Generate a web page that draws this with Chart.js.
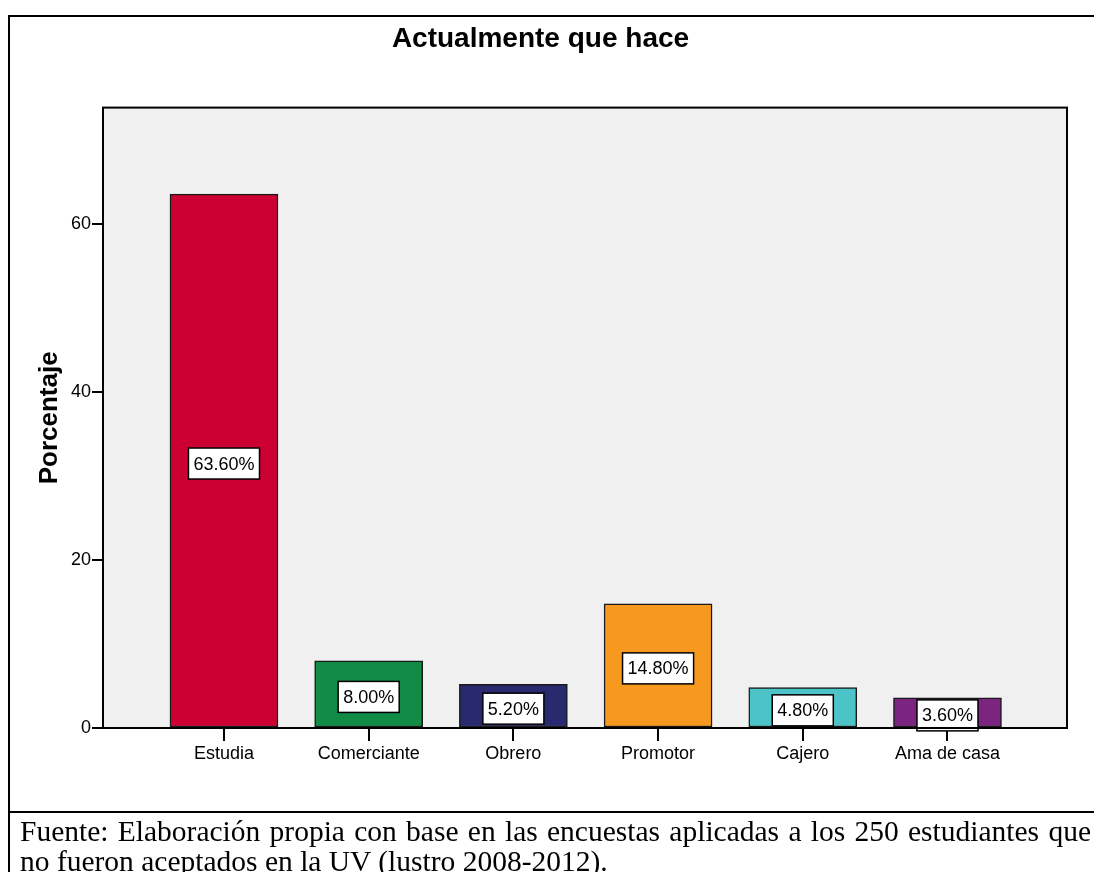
<!DOCTYPE html>
<html lang="es">
<head>
<meta charset="UTF-8">
<title>Actualmente que hace</title>
<script src="https://cdn.jsdelivr.net/npm/chart.js"></script>
<style>
    body { margin: 0; background: #fff; }
    #wrap { position: relative; width: 1094px; height: 872px; overflow: hidden; }
    #chart { position: absolute; left: 0; top: 0; }
    .rule { position: absolute; background: #000; }
    #fuente {
        position: absolute; left: 20px; top: 816px; width: 1071px;
        font-family: 'Liberation Serif', 'Times New Roman', serif;
        font-size: 29.5px; line-height: 30px; color: #000;
    }
    #fuente .l1 { text-align: justify; text-align-last: justify; white-space: nowrap; }
</style>
</head>
<body>
<div id="wrap">
    <canvas id="chart" width="1094" height="812"></canvas>
    <div class="rule" style="left:8px; top:15px; width:1086px; height:2px;"></div>
    <div class="rule" style="left:8px; top:15px; width:2px; height:857px;"></div>
    <div class="rule" style="left:8px; top:811px; width:1086px; height:2px;"></div>
    <div id="fuente">
        <div class="l1">Fuente: Elaboración propia con base en las encuestas aplicadas a los 250 estudiantes que</div>
        <div>no fueron aceptados en la UV (lustro 2008-2012).</div>
    </div>
</div>

<script>
    const categorias = ['Estudia', 'Comerciante', 'Obrero', 'Promotor', 'Cajero', 'Ama de casa'];
    const porcentajes = [63.6, 8.0, 5.2, 14.8, 4.8, 3.6];
    const colores = ['#cc0033', '#118c47', '#29296f', '#f7991f', '#4bc3c7', '#7b2580'];
    const yTicks = [0, 20, 40, 60];

    Chart.defaults.font.family = "'Liberation Sans', Arial, sans-serif";
    Chart.defaults.color = '#000';

    // fondo gris y marco del area de trazado
    const marco = {
        id: 'marco',
        beforeDraw(chart) {
            const a = chart.chartArea, ctx = chart.ctx;
            ctx.save();
            ctx.fillStyle = '#f0f0f0';
            ctx.fillRect(a.left, a.top, a.right - a.left, a.bottom - a.top);
            ctx.restore();
        },
        afterDraw(chart) {
            const a = chart.chartArea, ctx = chart.ctx;
            ctx.save();
            ctx.strokeStyle = '#000';
            ctx.lineWidth = 2;
            ctx.strokeRect(a.left, a.top, a.right - a.left, a.bottom - a.top);
            ctx.restore();
        }
    };

    // etiquetas con caja blanca en medio de cada barra
    const etiquetas = {
        id: 'etiquetas',
        afterDatasetsDraw(chart) {
            const ctx = chart.ctx;
            const meta = chart.getDatasetMeta(0);
            ctx.save();
            ctx.font = "18px 'Liberation Sans', Arial, sans-serif";
            ctx.textAlign = 'center';
            ctx.textBaseline = 'middle';
            meta.data.forEach((bar, i) => {
                const txt = porcentajes[i].toFixed(2) + '%';
                const w = ctx.measureText(txt).width + 10;
                const h = 31;
                const cy = (bar.y + bar.base) / 2 + 3;
                ctx.fillStyle = '#fff';
                ctx.fillRect(bar.x - w / 2, cy - h / 2, w, h);
                ctx.strokeStyle = '#000';
                ctx.lineWidth = 1.5;
                ctx.strokeRect(bar.x - w / 2, cy - h / 2, w, h);
                ctx.fillStyle = '#000';
                ctx.fillText(txt, bar.x, cy + 1);
            });
            ctx.restore();
        }
    };

    new Chart(document.getElementById('chart'), {
        type: 'bar',
        data: {
            datasets: [{
                data: porcentajes.map((v, i) => ({ x: i, y: v })),
                backgroundColor: colores,
                borderColor: '#1a1a1a',
                borderWidth: 1.5,
                borderSkipped: false,
                barThickness: 108
            }]
        },
        options: {
            responsive: false,
            devicePixelRatio: 1,
            animation: false,
            layout: { padding: { top: 0, right: 27, bottom: 0, left: 14 } },
            plugins: {
                legend: { display: false },
                tooltip: { enabled: false },
                title: {
                    display: true,
                    text: 'Actualmente que hace',
                    color: '#000',
                    font: { size: 28, weight: 'bold' },
                    padding: { top: 22, bottom: 52 }
                }
            },
            scales: {
                x: {
                    type: 'linear',
                    min: -0.836,
                    max: 5.826,
                    offset: false,
                    afterBuildTicks: axis => { axis.ticks = categorias.map((c, i) => ({ value: i })); },
                    afterFit: axis => { axis.height = 84; },
                    ticks: {
                        callback: v => categorias[v],
                        autoSkip: false,
                        maxRotation: 0,
                        font: { size: 18 },
                        color: '#000',
                        padding: 2
                    },
                    grid: { offset: false, drawOnChartArea: false, drawTicks: true, tickLength: 13, color: '#000', lineWidth: 2 },
                    border: { display: true, color: '#000', width: 2 }
                },
                y: {
                    min: 0,
                    max: 73.9,
                    afterBuildTicks: axis => { axis.ticks = yTicks.map(v => ({ value: v })); },
                    afterFit: axis => { axis.width = 89; },
                    ticks: { font: { size: 18 }, color: '#000', padding: 1, includeBounds: false },
                    grid: { drawOnChartArea: false, drawTicks: true, tickLength: 11, color: '#000', lineWidth: 2 },
                    border: { display: true, color: '#000', width: 2 },
                    title: {
                        display: true,
                        text: 'Porcentaje',
                        color: '#000',
                        font: { size: 26, weight: 'bold' },
                        padding: { top: 20, bottom: 0 }
                    }
                }
            }
        },
        plugins: [marco, etiquetas]
    });
</script>
</body>
</html>
